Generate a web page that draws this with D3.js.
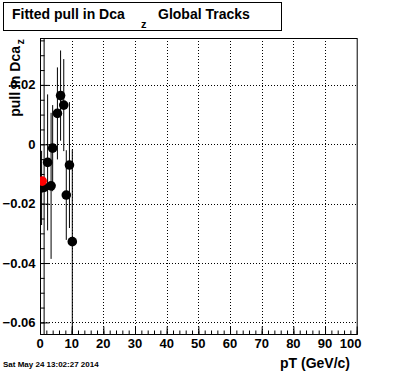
<!DOCTYPE html>
<html>
<head>
<meta charset="utf-8">
<script src="https://cdn.jsdelivr.net/npm/d3@7"></script>
<style>
  body { margin: 0; background: #fff; }
  text { font-family: "Liberation Sans", Arial, Helvetica, sans-serif; font-weight: bold; }
</style>
</head>
<body>
<svg width="396" height="372"></svg>
<script>
// black series: pull fit mean per pT bin
var pT      = [0.5, 1.3, 2.4, 3.5, 4.0, 5.5, 6.5, 7.5, 8.3, 9.3, 10.2];
var pull    = [-0.0147, -0.0145, -0.0061, -0.0140, -0.0013, 0.0104, 0.0164, 0.0132, -0.0171, -0.0070, -0.0328];
var pullErr = [0.0125, 0.1, 0.0229, 0.0246, 0.0145, 0.0155, 0.0152, 0.0155, 0.0151, 0.0212, 0.031];
// red series
var redPT   = [0.7];
var redPull = [-0.0124];

var xTicks = [0, 10, 20, 30, 40, 50, 60, 70, 80, 90, 100];
var yTicks = [-0.06, -0.04, -0.02, 0, 0.02];

var svg = d3.select('svg');

// note: "top" is reserved on window, so use frame* names
var frameL = 40, frameR = 356.7, frameT = 38, frameB = 334;

var x = d3.scaleLinear().domain([0, 100]).range([frameL, frameR]);
var y = d3.scaleLinear().domain([-0.0639, 0.0358]).range([frameB, frameT]);

svg.append('clipPath').attr('id', 'frame')
  .append('rect')
    .attr('x', frameL).attr('y', frameT)
    .attr('width', frameR - frameL).attr('height', frameB - frameT);

// title box
svg.append('rect')
    .attr('x', 3.5).attr('y', 2.5)
    .attr('width', 278).attr('height', 28)
    .style('fill', 'white')
    .style('stroke', 'black');

svg.append('text').attr('x', 12).attr('y', 19)
    .style('font-size', '14px').text('Fitted pull in Dca');
svg.append('text').attr('x', 141).attr('y', 27.5)
    .style('font-size', '11px').text('z');
svg.append('text').attr('x', 158).attr('y', 19)
    .style('font-size', '14px').text('Global Tracks');

// grid
svg.append('g').selectAll('line')
  .data(xTicks.slice(1, -1))
  .join('line')
    .attr('x1', function(d){ return Math.round(x(d)) + 0.5; })
    .attr('x2', function(d){ return Math.round(x(d)) + 0.5; })
    .attr('y1', frameT).attr('y2', frameB)
    .style('stroke', 'black')
    .style('stroke-dasharray', '1,2');

svg.append('g').selectAll('line')
  .data(yTicks)
  .join('line')
    .attr('x1', frameL).attr('x2', frameR)
    .attr('y1', function(d){ return Math.round(y(d)) + 0.5; })
    .attr('y2', function(d){ return Math.round(y(d)) + 0.5; })
    .style('stroke', 'black')
    .style('stroke-dasharray', '1,2');

// axes, ticks drawn inward like ROOT
var xAxis = d3.axisTop(x).tickValues(d3.range(0, 101, 2))
    .tickSize(4).tickFormat('');
svg.append('g').attr('transform', 'translate(0,' + (frameB + 0.5) + ')').call(xAxis);
var xMajor = d3.axisTop(x).tickValues(xTicks).tickSize(8).tickFormat('');
svg.append('g').attr('transform', 'translate(0,' + (frameB + 0.5) + ')').call(xMajor);

var yAxis = d3.axisRight(y).tickValues(d3.range(-0.06, 0.0351, 0.005))
    .tickSize(4).tickFormat('');
svg.append('g').attr('transform', 'translate(' + (frameL + 0.5) + ',0)').call(yAxis);
var yMajor = d3.axisRight(y).tickValues(yTicks).tickSize(9).tickFormat('');
svg.append('g').attr('transform', 'translate(' + (frameL + 0.5) + ',0)').call(yMajor);

svg.selectAll('.domain').remove();
svg.selectAll('.tick line').style('stroke', 'black');

// tick labels
svg.append('g').selectAll('text')
  .data(xTicks)
  .join('text')
    .attr('x', function(d){ return d === 100 ? x(d) - 6 : x(d); })
    .attr('y', 348)
    .attr('text-anchor', 'middle')
    .style('font-size', '13px')
    .text(function(d){ return d; });

svg.append('g').selectAll('text')
  .data(yTicks)
  .join('text')
    .attr('x', 35.5)
    .attr('y', function(d){ return y(d) + 4.5; })
    .attr('text-anchor', 'end')
    .style('font-size', '13px')
    .text(function(d){ return d === 0 ? '0' : d3.format('.2f')(d); });

// frame
svg.append('rect')
    .attr('x', frameL + 0.5).attr('y', frameT + 0.5)
    .attr('width', frameR - frameL).attr('height', frameB - frameT)
    .style('fill', 'none')
    .style('stroke', 'black');

// axis titles
svg.append('text').attr('x', 350).attr('y', 368)
    .attr('text-anchor', 'end')
    .style('font-size', '14px').text('pT (GeV/c)');

var yt = svg.append('g').attr('transform', 'translate(19.5,46) rotate(-90)');
yt.append('text').attr('x', 0).attr('y', 0)
    .attr('text-anchor', 'end')
    .style('font-size', '14px').text('pull in Dca');
yt.append('text').attr('x', 7).attr('y', 4.5)
    .attr('text-anchor', 'end')
    .style('font-size', '11px').text('z');

// date stamp
svg.append('text').attr('x', 3).attr('y', 367)
    .style('font-size', '8px').text('Sat May 24 13:02:27 2014');

// error bars and markers
var plot = svg.append('g').attr('clip-path', 'url(#frame)');

plot.selectAll('line.err')
  .data(pT)
  .join('line')
    .attr('class', 'err')
    .attr('x1', function(d){ return x(d); })
    .attr('x2', function(d){ return x(d); })
    .attr('y1', function(d, i){ return y(pull[i] + pullErr[i]); })
    .attr('y2', function(d, i){ return y(pull[i] - pullErr[i]); })
    .style('stroke', 'black');

plot.selectAll('circle.blk')
  .data(pT)
  .join('circle')
    .attr('class', 'blk')
    .attr('cx', function(d){ return x(d); })
    .attr('cy', function(d, i){ return y(pull[i]); })
    .attr('r', 4.8)
    .style('fill', 'black');

plot.selectAll('circle.red')
  .data(redPT)
  .join('circle')
    .attr('class', 'red')
    .attr('cx', function(d){ return x(d); })
    .attr('cy', function(d, i){ return y(redPull[i]); })
    .attr('r', 4.8)
    .style('fill', 'red');
</script>
</body>
</html>
